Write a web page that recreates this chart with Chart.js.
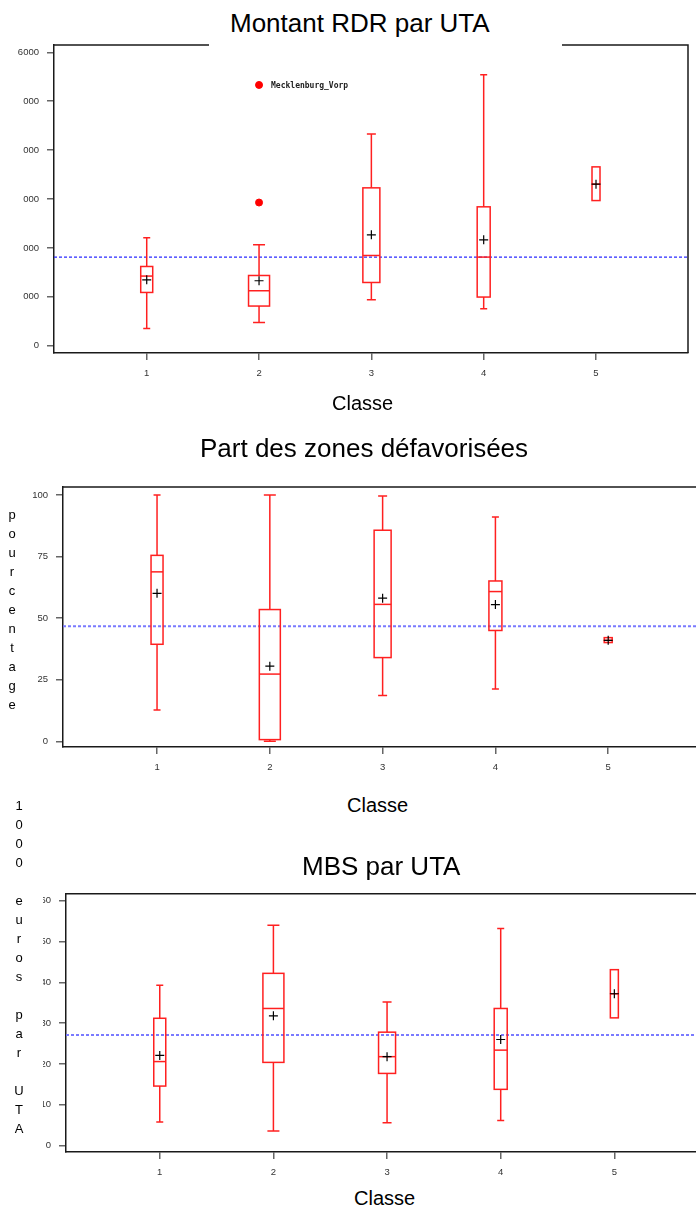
<!DOCTYPE html>
<html>
<head>
<meta charset="utf-8">
<script src="https://cdn.jsdelivr.net/npm/chart.js@4.4.0/dist/chart.umd.min.js"></script>
<style>
    html, body { margin: 0; padding: 0; background: #fff; }
    body { position: relative; width: 696px; height: 1210px; overflow: hidden; font-family: "Liberation Sans", Arial, sans-serif; color: #000; }
    canvas { position: absolute; }
    .titre { position: absolute; font-size: 26px; line-height: 30px; white-space: nowrap; z-index: 2; }
    .cache { background: #fff; }
    .classe { position: absolute; font-size: 20px; line-height: 24px; white-space: nowrap; z-index: 2; }
    .vertical { position: absolute; font-size: 13px; line-height: 19px; white-space: pre; text-align: center; width: 16px; z-index: 2; }
</style>
</head>
<body>
<canvas id="rdr" width="696" height="400" style="left:0;top:0"></canvas>
<canvas id="zones" width="740" height="360" style="left:0;top:420px"></canvas>
<canvas id="mbs" width="700" height="300" style="left:43px;top:880px"></canvas>

<div class="titre cache" style="left:209px;top:0;width:332px;height:39px;padding:8px 0 0 21px">Montant RDR par UTA</div>
<div class="classe" style="left:332px;top:391px">Classe</div>

<div class="titre" style="left:200px;top:433px">Part des zones défavorisées</div>
<div class="vertical" id="vPct" style="left:4px;top:505px"></div>
<div class="classe" style="left:347px;top:793px">Classe</div>

<div class="vertical" id="vEur" style="left:11px;top:796px"></div>
<div class="titre" style="left:302px;top:851px">MBS par UTA</div>
<div class="classe" style="left:354px;top:1186px">Classe</div>

<script>
// Données (boîtes à moustaches par classe)
const classes = [1, 2, 3, 4, 5];

// Montant RDR par UTA
const rdrMin = [353, 476, 940, 756, 2968];
const rdrQ1 = [1089, 811, 1293, 995, 2968];
const rdrMed = [1424, 1124, 1845, 1812, 3303];
const rdrQ3 = [1620, 1436, 3228, 2840, 3657];
const rdrMax = [2206, 2063, 4331, 5542, 3657];
const rdrMoy = [1348, 1328, 2268, 2165, 3303];
const rdrRef = 1812;
const rdrAtypX = [2, 2];
const rdrAtypY = [5332, 2928];
const rdrAtypNom = ['Mecklenburg_Vorp', ''];
const rdrTicks = [0, 1000, 2000, 3000, 4000, 5000, 6000];
const rdrTickLabels = ['0', '000', '000', '000', '000', '000', '6000'];

// Part des zones défavorisées
const pctMin = [12.7, 0, 18.6, 21.2, 40.1];
const pctQ1 = [39.4, 0.7, 34.0, 45.0, 40.1];
const pctMed = [68.8, 27.3, 55.6, 60.8, 41.0];
const pctQ3 = [75.5, 53.5, 85.7, 65.1, 42.1];
const pctMax = [100, 100, 99.6, 91.1, 42.1];
const pctMoy = [60.1, 30.5, 58.1, 55.5, 41.0];
const pctRef = 46.7;
const pctTicks = [0, 25, 50, 75, 100];
const pctTickLabels = ['0', '25', '50', '75', '100'];

// MBS par UTA (1000 euros par UTA)
const mbsMin = [5.8, 3.6, 5.6, 6.2, 31.3];
const mbsQ1 = [14.6, 20.4, 17.7, 13.8, 31.3];
const mbsMed = [20.6, 33.6, 21.8, 23.4, 37.2];
const mbsQ3 = [31.2, 42.2, 27.8, 33.6, 43.1];
const mbsMax = [39.3, 54.0, 35.2, 53.2, 43.1];
const mbsMoy = [22.1, 31.8, 21.8, 26.0, 37.2];
const mbsRef = 27.1;
const mbsTicks = [0, 10, 20, 30, 40, 50, 60];
const mbsTickLabels = ['0', '10', '20', '30', '40', '50', '60'];

// largeur des boîtes (px), selon l'effectif de la classe
const largeurBoites = [12, 21, 17, 13, 8];

// étiquettes verticales
document.getElementById('vPct').textContent = 'pourcentage'.split('').join('\n');
document.getElementById('vEur').textContent = '1000 euros par UTA'.split('').join('\n');

// dessin des boîtes, de la ligne de référence et du cadre
function pluginBoites(b) {
    return {
        id: 'boites',
        beforeDatasetsDraw: function(chart) {
            const ctx = chart.ctx;
            const a = chart.chartArea;
            const x = chart.scales.x;
            const y = chart.scales.y;
            ctx.save();
            // ligne de référence (moyenne générale)
            const yr = y.getPixelForValue(b.ref);
            ctx.strokeStyle = b.refCouleur;
            ctx.lineWidth = b.refEpaisseur;
            ctx.setLineDash([3, 2]);
            ctx.beginPath();
            ctx.moveTo(a.left, yr);
            ctx.lineTo(a.right, yr);
            ctx.stroke();
            ctx.setLineDash([]);

            ctx.strokeStyle = '#ff2020';
            ctx.lineWidth = 1.5;
            classes.forEach(function(c, i) {
                const xc = x.getPixelForValue(c);
                const w = largeurBoites[i];
                const cap = Math.round(w * 0.55);
                const yMin = y.getPixelForValue(b.min[i]);
                const yQ1 = y.getPixelForValue(b.q1[i]);
                const yMed = y.getPixelForValue(b.med[i]);
                const yQ3 = y.getPixelForValue(b.q3[i]);
                const yMax = y.getPixelForValue(b.max[i]);
                ctx.beginPath();
                if (b.max[i] > b.q3[i]) {
                    ctx.moveTo(xc, yQ3); ctx.lineTo(xc, yMax);
                    ctx.moveTo(xc - cap / 2, yMax); ctx.lineTo(xc + cap / 2, yMax);
                }
                if (b.min[i] < b.q1[i]) {
                    ctx.moveTo(xc, yQ1); ctx.lineTo(xc, yMin);
                    ctx.moveTo(xc - cap / 2, yMin); ctx.lineTo(xc + cap / 2, yMin);
                }
                ctx.stroke();
                ctx.strokeRect(xc - w / 2, yQ3, w, yQ1 - yQ3);
                ctx.beginPath();
                ctx.moveTo(xc - w / 2, yMed); ctx.lineTo(xc + w / 2, yMed);
                ctx.stroke();
            });
            ctx.restore();
        },
        afterDatasetsDraw: function(chart) {
            const ctx = chart.ctx;
            const a = chart.chartArea;
            const x = chart.scales.x;
            const y = chart.scales.y;
            ctx.save();
            // noms des points atypiques
            ctx.fillStyle = '#222';
            ctx.font = 'bold 8px "DejaVu Sans Mono", monospace';
            ctx.textBaseline = 'middle';
            (b.nomsAtyp || []).forEach(function(nom, i) {
                if (nom) {
                    ctx.fillText(nom, x.getPixelForValue(b.atypX[i]) + 12, y.getPixelForValue(b.atypY[i]) + 1);
                }
            });
            // haut et droite du cadre
            ctx.strokeStyle = '#1a1a1a';
            ctx.lineWidth = 1.5;
            ctx.beginPath();
            ctx.moveTo(a.left, a.top);
            ctx.lineTo(a.right, a.top);
            ctx.lineTo(a.right, a.bottom);
            ctx.stroke();
            ctx.restore();
        }
    };
}

function creerPanneau(id, b) {
    const moyennes = classes.map(function(c, i) { return { x: c, y: b.moy[i] }; });
    const atypiques = (b.atypX || []).map(function(c, i) { return { x: c, y: b.atypY[i] }; });
    return new Chart(document.getElementById(id), {
        type: 'scatter',
        data: {
            datasets: [{
                label: 'moyenne',
                data: moyennes,
                pointStyle: 'cross',
                pointRadius: 4.5,
                borderColor: '#000',
                borderWidth: 1.2
            }, {
                label: 'atypiques',
                data: atypiques,
                pointStyle: 'circle',
                pointRadius: 3.5,
                backgroundColor: '#ff0000',
                borderColor: '#ff0000'
            }]
        },
        options: {
            responsive: false,
            animation: false,
            devicePixelRatio: 1,
            events: [],
            layout: { padding: b.padding },
            plugins: {
                legend: { display: false },
                tooltip: { enabled: false }
            },
            scales: {
                x: {
                    type: 'linear',
                    min: b.xMin,
                    max: b.xMax,
                    afterBuildTicks: function(s) { s.ticks = classes.map(function(v) { return { value: v }; }); },
                    afterFit: function(s) { s.height = b.hauteurX; },
                    grid: { drawOnChartArea: false, tickLength: 7, color: '#666', lineWidth: 1.5 },
                    border: { color: '#1a1a1a', width: 1.5 },
                    ticks: { padding: 8, color: '#333', font: { size: 9.5, family: '"Liberation Sans", Arial' }, maxRotation: 0,
                        callback: function(v) { return String(v); } }
                },
                y: {
                    type: 'linear',
                    min: b.yMin,
                    max: b.yMax,
                    afterBuildTicks: function(s) { s.ticks = b.ticks.map(function(v) { return { value: v }; }); },
                    afterFit: function(s) { s.width = b.largeurY; },
                    grid: { drawOnChartArea: false, tickLength: 7, color: '#666', lineWidth: 1.5 },
                    border: { color: '#1a1a1a', width: 1.5 },
                    ticks: { padding: 8, color: '#333', font: { size: 9.5, family: '"Liberation Sans", Arial' },
                        callback: function(v, i) { return b.tickLabels[i]; } }
                }
            }
        },
        plugins: [pluginBoites(b)]
    });
}

creerPanneau('rdr', {
    min: rdrMin, q1: rdrQ1, med: rdrMed, q3: rdrQ3, max: rdrMax, moy: rdrMoy, ref: rdrRef,
    atypX: rdrAtypX, atypY: rdrAtypY, nomsAtyp: rdrAtypNom,
    ticks: rdrTicks, tickLabels: rdrTickLabels,
    xMin: 0.1745, xMax: 5.819, yMin: -149, yMax: 6149,
    padding: { top: 45, right: 8, left: 0, bottom: 0 }, largeurY: 54, hauteurX: 47,
    refCouleur: '#2a2aff', refEpaisseur: 1.3
});

creerPanneau('zones', {
    min: pctMin, q1: pctQ1, med: pctMed, q3: pctQ3, max: pctMax, moy: pctMoy, ref: pctRef,
    ticks: pctTicks, tickLabels: pctTickLabels,
    xMin: 0.1663, xMax: 6, yMin: -2.3, yMax: 103.25,
    padding: { top: 67, right: 19, left: 0, bottom: 0 }, largeurY: 63, hauteurX: 33,
    refCouleur: '#7a7aff', refEpaisseur: 2
});

creerPanneau('mbs', {
    min: mbsMin, q1: mbsQ1, med: mbsMed, q3: mbsQ3, max: mbsMax, moy: mbsMoy, ref: mbsRef,
    ticks: mbsTicks, tickLabels: mbsTickLabels,
    xMin: 0.175, xMax: 6, yMin: -1.54, yMax: 61.7,
    padding: { top: 13, right: 15, left: 0, bottom: 0 }, largeurY: 23, hauteurX: 28,
    refCouleur: '#7a7aff', refEpaisseur: 2
});
</script>
</body>
</html>
